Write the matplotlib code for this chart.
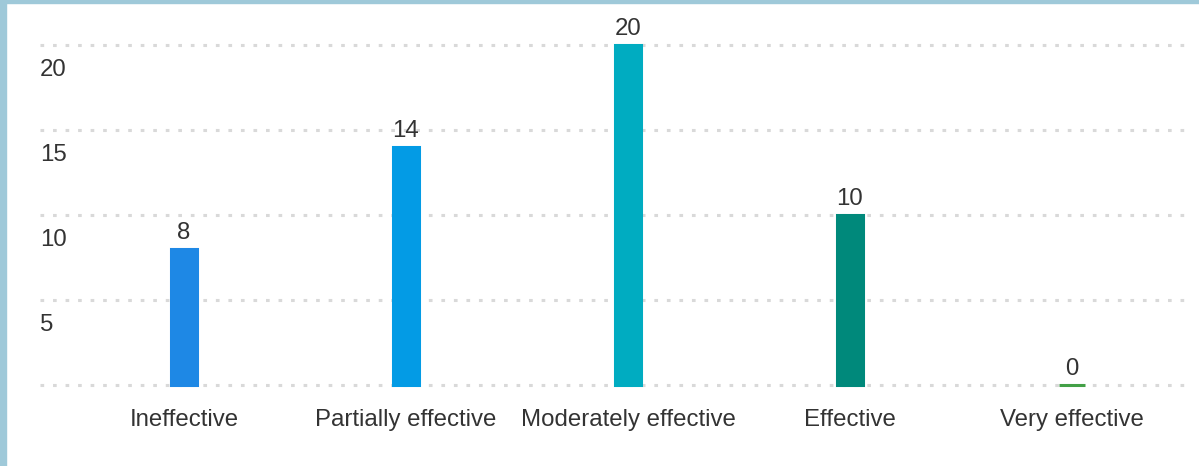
import matplotlib
matplotlib.use("Agg")
import matplotlib.pyplot as plt
from matplotlib.transforms import ScaledTranslation, blended_transform_factory
from matplotlib.patches import Rectangle

categories = ["Ineffective", "Partially effective", "Moderately effective", "Effective", "Very effective"]
values = [8, 14, 20, 10, 0]
colors = ["#1e88e5", "#039be5", "#00acc1", "#00897b", "#43a047"]
yticks = [5, 10, 15, 20]

plt.rcParams['font.family'] = ['Liberation Sans', 'DejaVu Sans']

W, H = 1199, 466
fig = plt.figure(figsize=(W / 100, H / 100), dpi=100)
fig.patch.set_facecolor("white")

# light blue frame on left and top
border = "#9fc9d9"
fig.patches.append(Rectangle((0, 0), 6 / W, 1, transform=fig.transFigure, color=border, zorder=10))
fig.patches.append(Rectangle((0, 1 - 3 / H), 1, 3 / H, transform=fig.transFigure, color=border, zorder=10))

ax_left, ax_right = 40, 1185
ax_bottom = 385
unit = 17.0
ymax = 20.6
ax_h = ymax * unit
ax = fig.add_axes([ax_left / W, 1 - ax_bottom / H, (ax_right - ax_left) / W, ax_h / H])
ax.set_facecolor("white")

x = list(range(len(categories)))
spacing = 222.0
xmin = (ax_left - 184) / spacing
xmax = (ax_right - 184) / spacing
ax.set_xlim(xmin, xmax)
ax.set_ylim(0, ymax)

for s in ax.spines.values():
    s.set_visible(False)

# dotted gridlines
for v in [0] + yticks:
    ax.axhline(v, color="#d9d9d9", lw=2.2, linestyle=(0, (1.2, 2.9)), zorder=0, clip_on=False)

bars = ax.bar(x, values, width=26 / spacing, color=colors, edgecolor=colors, linewidth=2.2, zorder=2)
for b in bars:
    b.set_clip_on(False)

fs = 17.3
for xi, v in zip(x, values):
    ax.annotate(str(v), (xi, v), xytext=(0, 3.5), textcoords="offset points",
                ha="center", va="bottom", fontsize=fs, color="#333333")

ax.set_yticks([])
trans = blended_transform_factory(ax.transAxes, ax.transData) + ScaledTranslation(0, -31 / 100, fig.dpi_scale_trans)
for v in yticks:
    ax.text(0, v, str(v), transform=trans, ha="left", va="baseline", fontsize=fs, color="#333333")

ax.set_xticks(x)
ax.set_xticklabels(categories, fontsize=fs, color="#333333")
ax.tick_params(axis="x", length=0, pad=17)

fig.savefig("out.png", dpi=100, facecolor="white")
